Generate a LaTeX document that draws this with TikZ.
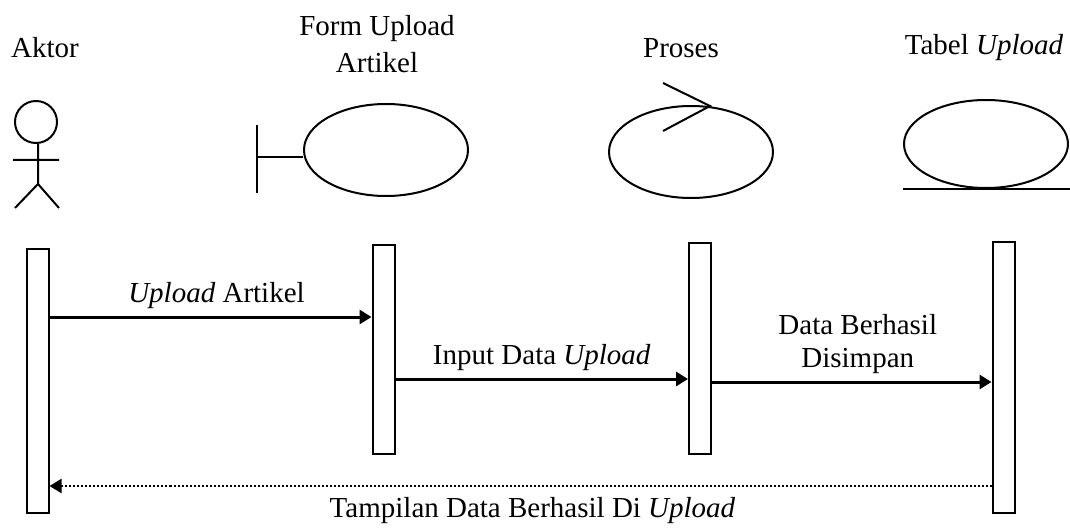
\documentclass[tikz,border=0pt]{standalone}
\usepackage{fontspec}
\setmainfont{Liberation Serif}
\usetikzlibrary{shapes.geometric,arrows.meta}

\begin{document}
\begin{tikzpicture}[x=0.5pt,y=-0.5pt,>={Triangle[length=6pt,width=7pt]},font=\fontsize{14.5}{16.5}\selectfont,
    obj node/.style={ellipse,draw,line width=1pt,minimum width=82pt,minimum height=46pt},
    life node/.style={rectangle,draw,line width=1pt,minimum width=11pt,anchor=north,inner sep=0pt},
    msg/.style={->,line width=1.5pt},
    ret/.style={->,line width=1.1pt,dash pattern=on 1pt off 1pt}]

            \useasboundingbox (0,0) rectangle (1070,529);

            % kepala kolom
            \node[] (1t) at (45,48) {Aktor};
            \node[align=center] (2t) at (377,44) {Form Upload\\[2pt]Artikel};
            \node[] (3t) at (681,48) {Proses};
            \node[] (4t) at (984,48) {Tabel \textit{Upload}};

            % aktor
            \node[circle,draw,line width=1pt,minimum size=21pt,inner sep=0pt] (1) at (36,122) {};
            \draw[line width=1pt] (1.south) ++(2,0) -- ++(0,40) -- ++(-23,24)
                (1.south) ++(2,40) -- ++(21,24)
                (1.south) ++(-23,16) -- ++(46,0);

            % boundary, control, entity
            \node[obj node] (2) at (386,150) {};
            \draw[line width=1pt] (2.west) ++(0,7) -- ++(-46,0)
                (2.west) ++(-46,-25) -- ++(0,68);
            \node[obj node] (3) at (691,152) {};
            \draw[line width=1pt] (3.north) ++(-28,-22) -- ++(47,23) -- ++(-47,25);
            \node[obj node,minimum height=44pt] (4) at (986,144) {};
            \draw[line width=1pt] (4.south) ++(-83,0) -- ++(167,0);

            % lifeline
            \node[life node,minimum height=132pt] (1b) at (37.5,248) {};
            \node[life node,minimum height=104.5pt] (2b) at (383.5,244) {};
            \node[life node,minimum height=105.5pt] (3b) at (700,242) {};
            \node[life node,minimum height=135.5pt] (4b) at (1003.5,241) {};

            \coordinate (m1) at (0,317);
            \coordinate (m2) at (0,379);
            \coordinate (m3) at (0,382);
            \coordinate (m4) at (0,486);

            \path[]
                (1b.east |- m1) edge[msg] node[above,xshift=3pt] {\textit{Upload} Artikel} (2b.west |- m1)
                (2b.east |- m2) edge[msg] node[above] {Input Data \textit{Upload}} (3b.west |- m2)
                (3b.east |- m3) edge[msg] node[above,align=center,xshift=3pt] {Data Berhasil\\Disimpan} (4b.west |- m3)
                (4b.west |- m4) edge[ret] node[below,xshift=6pt,yshift=-2pt] {Tampilan Data Berhasil Di \textit{Upload}} (1b.east |- m4)
            ;
        \end{tikzpicture}
\end{document}
